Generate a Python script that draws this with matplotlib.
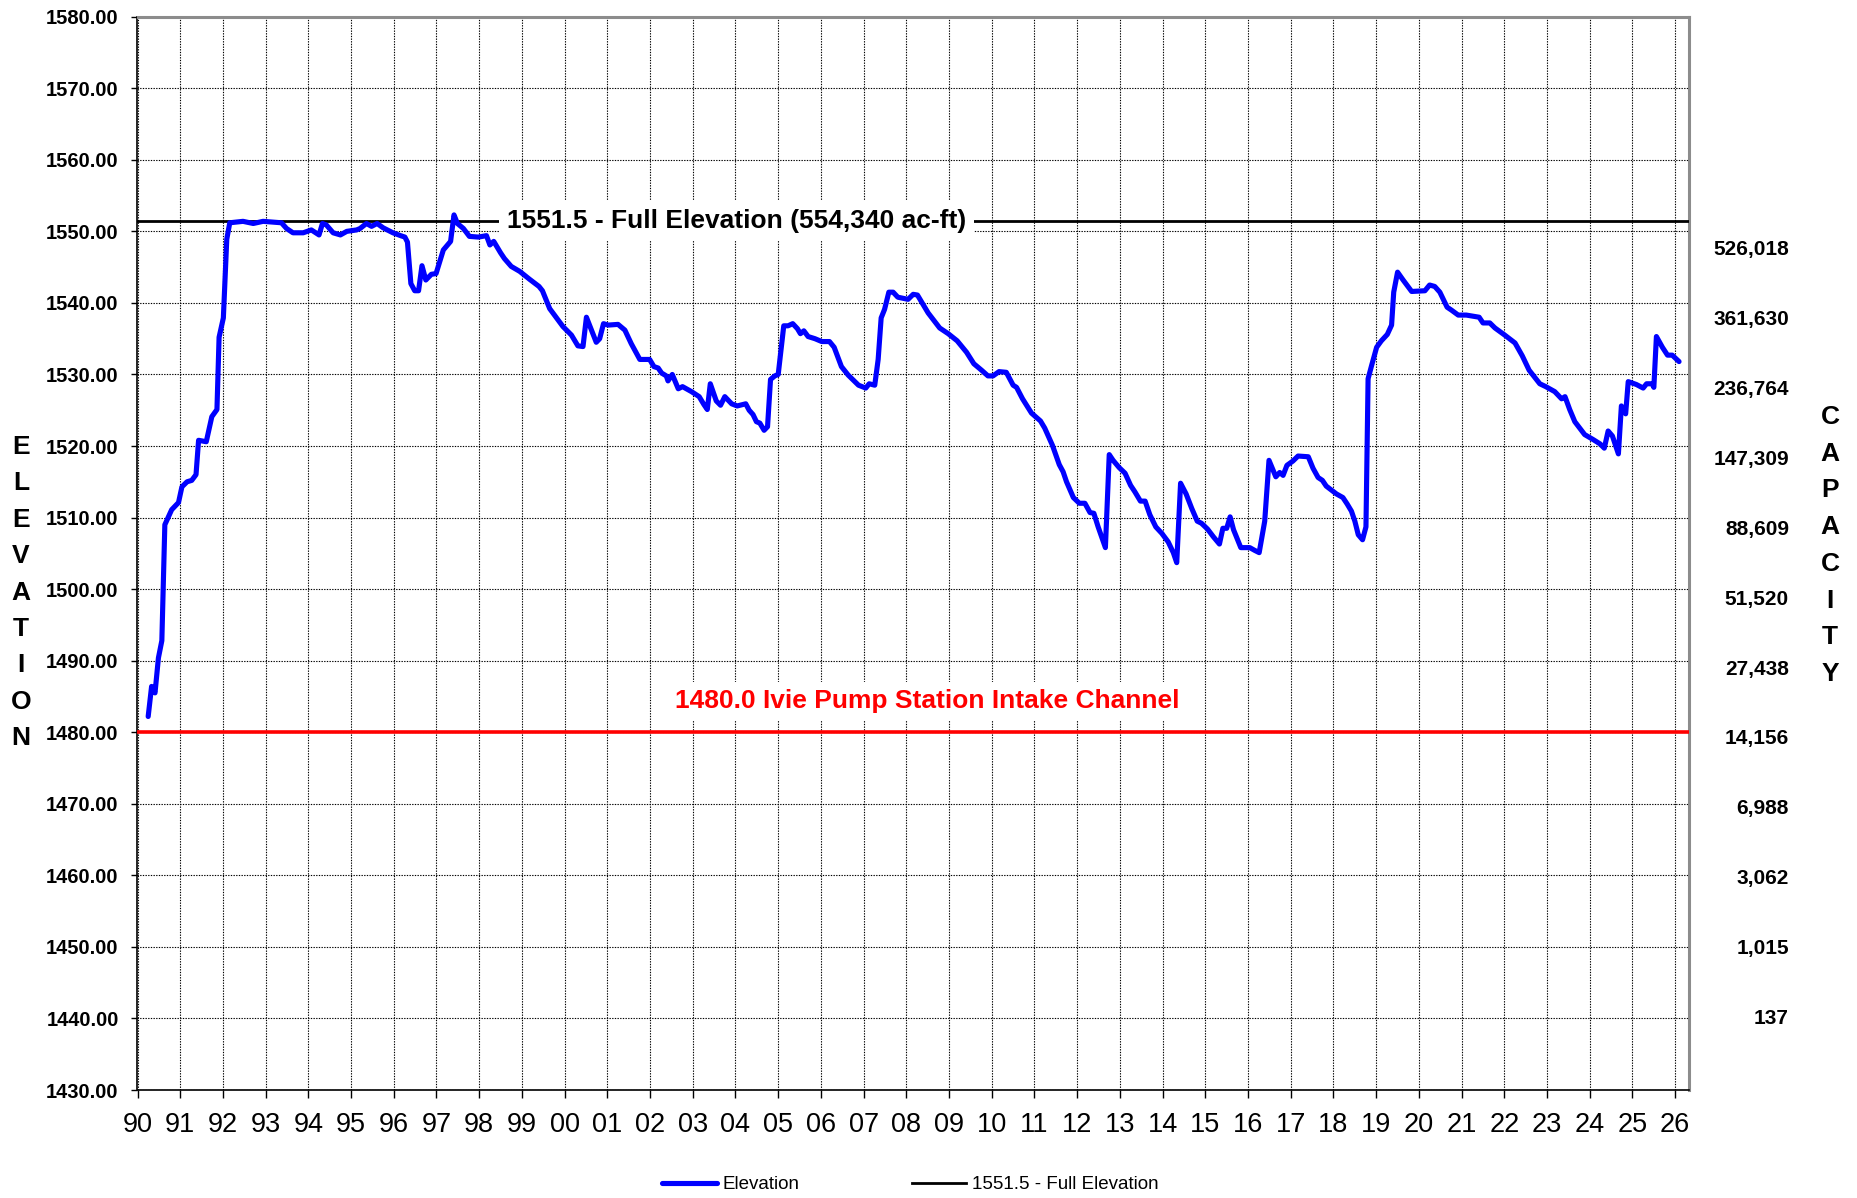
import matplotlib.pyplot as plt
from matplotlib import transforms

plt.rcParams.update({'font.family': ['Liberation Sans', 'DejaVu Sans']})

# Lake elevation readings (decimal year, ft)
years = [1990.25, 1990.33, 1990.41, 1990.49, 1990.57, 1990.64, 1990.80, 1990.96, 1991.04, 1991.16,
         1991.27, 1991.37, 1991.43, 1991.61, 1991.74, 1991.86, 1991.91, 1992.01, 1992.09, 1992.16,
         1992.47, 1992.71, 1992.94, 1993.37, 1993.49, 1993.64, 1993.88, 1994.07, 1994.25, 1994.33,
         1994.42, 1994.58, 1994.75, 1994.90, 1995.13, 1995.21, 1995.36, 1995.48, 1995.61, 1995.75,
         1995.98, 1996.16, 1996.26, 1996.32, 1996.40, 1996.49, 1996.58, 1996.66, 1996.75, 1996.88,
         1996.99, 1997.16, 1997.33, 1997.41, 1997.49, 1997.63, 1997.77, 1997.98, 1998.17, 1998.25,
         1998.34, 1998.50, 1998.59, 1998.75, 1998.95, 1999.18, 1999.40, 1999.48, 1999.65, 1999.96,
         2000.16, 2000.31, 2000.43, 2000.51, 2000.74, 2000.82, 2000.91, 2001.02, 2001.25, 2001.41,
         2001.56, 2001.76, 2001.99, 2002.09, 2002.19, 2002.27, 2002.38, 2002.42, 2002.52, 2002.66,
         2002.76, 2002.97, 2003.15, 2003.26, 2003.34, 2003.41, 2003.55, 2003.65, 2003.75, 2003.91,
         2004.04, 2004.24, 2004.32, 2004.41, 2004.49, 2004.57, 2004.67, 2004.75, 2004.82, 2004.92,
         2005.00, 2005.13, 2005.23, 2005.34, 2005.45, 2005.52, 2005.60, 2005.70, 2005.86, 2006.02,
         2006.20, 2006.31, 2006.48, 2006.64, 2006.88, 2007.05, 2007.13, 2007.26, 2007.34, 2007.41,
         2007.49, 2007.59, 2007.69, 2007.80, 2008.04, 2008.16, 2008.26, 2008.39, 2008.51, 2008.78,
         2008.98, 2009.19, 2009.41, 2009.58, 2009.76, 2009.91, 2010.03, 2010.17, 2010.34, 2010.50,
         2010.58, 2010.72, 2010.93, 2011.14, 2011.24, 2011.42, 2011.58, 2011.67, 2011.75, 2011.91,
         2012.05, 2012.18, 2012.30, 2012.39, 2012.49, 2012.66, 2012.75, 2012.84, 2012.98, 2013.12,
         2013.25, 2013.35, 2013.48, 2013.59, 2013.70, 2013.84, 2013.98, 2014.13, 2014.25, 2014.33,
         2014.42, 2014.55, 2014.68, 2014.81, 2014.91, 2015.05, 2015.19, 2015.33, 2015.41, 2015.50,
         2015.58, 2015.66, 2015.83, 2016.04, 2016.16, 2016.26, 2016.39, 2016.49, 2016.65, 2016.74,
         2016.82, 2016.91, 2017.05, 2017.17, 2017.41, 2017.52, 2017.64, 2017.74, 2017.83, 2018.07,
         2018.22, 2018.32, 2018.42, 2018.50, 2018.58, 2018.68, 2018.76, 2018.81, 2018.89, 2019.01,
         2019.12, 2019.26, 2019.36, 2019.41, 2019.50, 2019.63, 2019.83, 2020.14, 2020.25, 2020.37,
         2020.49, 2020.66, 2020.76, 2020.92, 2021.11, 2021.41, 2021.50, 2021.66, 2021.78, 2022.01,
         2022.25, 2022.42, 2022.58, 2022.83, 2022.97, 2023.18, 2023.34, 2023.42, 2023.53, 2023.65,
         2023.88, 2024.08, 2024.24, 2024.34, 2024.43, 2024.53, 2024.67, 2024.74, 2024.84, 2024.90,
         2025.09, 2025.25, 2025.33, 2025.46, 2025.50, 2025.56, 2025.70, 2025.82, 2025.93, 2026.09]
elevation = [1482.2, 1486.4, 1485.5, 1490.4, 1492.8, 1509.0, 1511.1, 1512.1, 1514.3, 1515.0,
             1515.2, 1516.0, 1520.8, 1520.6, 1524.1, 1525.1, 1535.2, 1537.9, 1548.9, 1551.2,
             1551.4, 1551.1, 1551.4, 1551.2, 1550.4, 1549.8, 1549.8, 1550.2, 1549.5, 1551.1,
             1550.9, 1549.8, 1549.5, 1550.0, 1550.2, 1550.4, 1551.1, 1550.7, 1551.1, 1550.5,
             1549.8, 1549.4, 1549.2, 1548.5, 1542.7, 1541.7, 1541.7, 1545.2, 1543.2, 1544.0,
             1544.1, 1547.4, 1548.6, 1552.3, 1551.1, 1550.4, 1549.3, 1549.2, 1549.4, 1548.1,
             1548.6, 1547.0, 1546.2, 1545.1, 1544.4, 1543.3, 1542.3, 1541.7, 1539.2, 1536.7,
             1535.5, 1534.0, 1533.9, 1538.0, 1534.5, 1535.0, 1537.1, 1536.9, 1537.0, 1536.2,
             1534.3, 1532.1, 1532.1, 1531.1, 1530.9, 1530.2, 1529.8, 1529.1, 1530.0, 1528.0,
             1528.3, 1527.6, 1526.9, 1525.8, 1525.1, 1528.7, 1526.3, 1525.7, 1526.9, 1525.9,
             1525.6, 1525.9, 1525.0, 1524.4, 1523.4, 1523.2, 1522.2, 1522.7, 1529.3, 1529.8,
             1530.0, 1536.8, 1536.8, 1537.1, 1536.4, 1535.7, 1536.1, 1535.3, 1535.0, 1534.6,
             1534.6, 1533.8, 1531.1, 1529.9, 1528.5, 1528.1, 1528.7, 1528.5, 1532.1, 1537.9,
             1539.1, 1541.5, 1541.5, 1540.8, 1540.5, 1541.2, 1541.1, 1539.8, 1538.6, 1536.5,
             1535.7, 1534.7, 1533.1, 1531.5, 1530.6, 1529.8, 1529.8, 1530.4, 1530.3, 1528.5,
             1528.2, 1526.6, 1524.6, 1523.5, 1522.5, 1520.1, 1517.4, 1516.4, 1515.0, 1512.8,
             1512.0, 1512.0, 1510.7, 1510.6, 1508.7, 1505.8, 1518.8, 1518.0, 1517.0, 1516.2,
             1514.5, 1513.6, 1512.3, 1512.3, 1510.4, 1508.7, 1507.8, 1506.6, 1505.1, 1503.7,
             1514.8, 1513.3, 1511.3, 1509.5, 1509.2, 1508.4, 1507.3, 1506.3, 1508.5, 1508.5,
             1510.1, 1508.3, 1505.8, 1505.8, 1505.4, 1505.1, 1509.5, 1518.0, 1515.7, 1516.3,
             1515.9, 1517.3, 1517.9, 1518.6, 1518.5, 1516.9, 1515.6, 1515.2, 1514.4, 1513.3,
             1512.8, 1511.9, 1510.9, 1509.5, 1507.6, 1506.9, 1508.7, 1529.4, 1531.2, 1533.8,
             1534.7, 1535.6, 1536.9, 1541.5, 1544.3, 1543.2, 1541.6, 1541.7, 1542.5, 1542.3,
             1541.5, 1539.4, 1539.0, 1538.3, 1538.3, 1538.0, 1537.2, 1537.2, 1536.5, 1535.5,
             1534.4, 1532.6, 1530.6, 1528.7, 1528.3, 1527.6, 1526.6, 1526.9, 1525.1, 1523.4,
             1521.6, 1520.9, 1520.3, 1519.7, 1522.1, 1521.4, 1518.9, 1525.6, 1524.5, 1529.0,
             1528.6, 1528.1, 1528.7, 1528.7, 1528.2, 1535.3, 1533.8, 1532.7, 1532.7, 1531.8]

full_elev = 1551.5
intake_elev = 1480.0
elev_ticks = list(range(1430, 1581, 10))
year_ticks = list(range(1990, 2027))
capacity_elev = [1550, 1540, 1530, 1520, 1510, 1500, 1490, 1480, 1470, 1460, 1450, 1440]
capacity_labels = ['526,018', '361,630', '236,764', '147,309', '88,609', '51,520',
                   '27,438', '14,156', '6,988', '3,062', '1,015', '137']

W, H = 1858, 1198
fig = plt.figure(figsize=(W / 100, H / 100), dpi=100)
ax = fig.add_axes([137.5 / W, 1 - 1090 / H, (1689.3 - 137.5) / W, (1090 - 16.7) / H])

ax.plot(years, elevation, color='#0000FF', lw=3.7, solid_joinstyle='round',
        solid_capstyle='round', label='Elevation', zorder=4)
ax.axhline(full_elev, color='black', lw=2.0, label='1551.5 - Full Elevation', zorder=3)
ax.axhline(intake_elev, color='#FF0000', lw=2.6, zorder=3)

ax.set_xlim(1990, 2026.33)
ax.set_ylim(1430, 1580)
ax.set_yticks(elev_ticks)
ax.set_yticklabels([f'{v:.2f}' for v in elev_ticks], fontsize=14.5, fontweight='bold')
ax.set_xticks(year_ticks)
ax.set_xticklabels([f'{y % 100:02d}' for y in year_ticks], fontsize=19.5)
ax.tick_params(axis='y', direction='out', length=4.5, width=1, pad=9)
ax.tick_params(axis='x', direction='out', length=5.5, width=1, pad=10)

ax.grid(True, color='black', linestyle=(0, (1.2, 1.2)), lw=0.8)
ax.set_axisbelow(True)
for side in ['left', 'bottom']:
    ax.spines[side].set_color('black')
    ax.spines[side].set_linewidth(1.2)
for side in ['top', 'right']:
    ax.spines[side].set_color('#8c8c8c')
    ax.spines[side].set_linewidth(2.2)

# reference line labels
blend = transforms.blended_transform_factory(ax.transAxes, ax.transData)
ax.text(0.386, full_elev, '1551.5 - Full Elevation (554,340 ac-ft)', transform=blend,
        ha='center', va='center', fontsize=19, fontweight='bold', zorder=5,
        bbox=dict(boxstyle='square,pad=0.3', fc='white', ec='none'))
ax.text(0.509, intake_elev + 4.3, '1480.0 Ivie Pump Station Intake Channel', transform=blend,
        ha='center', va='center', fontsize=19, fontweight='bold', color='#FF0000', zorder=5,
        bbox=dict(boxstyle='square,pad=0.3', fc='white', ec='none'))

# capacity scale on the right
for e, lab in zip(capacity_elev, capacity_labels):
    y = e - 2.6 * (e - 1440) / 110
    ax.text(1.0642, y, lab, transform=blend, ha='right', va='center',
            fontsize=15, fontweight='bold', clip_on=False)

# stacked axis titles
for i, ch in enumerate('ELEVATION'):
    fig.text(21 / W, 1 - (447 + i * 36.4) / H, ch, ha='center', va='center',
             fontsize=19, fontweight='bold')
for i, ch in enumerate('CAPACITY'):
    fig.text(1830 / W, 1 - (417 + i * 36.7) / H, ch, ha='center', va='center',
             fontsize=19, fontweight='bold')

fig.legend(loc='center', bbox_to_anchor=(0.49, 0.011), ncol=2, frameon=False,
           fontsize=13.5, handlelength=2.9, handletextpad=0.3, columnspacing=6.0)

fig.savefig('out.png', dpi=100)
plt.close(fig)
